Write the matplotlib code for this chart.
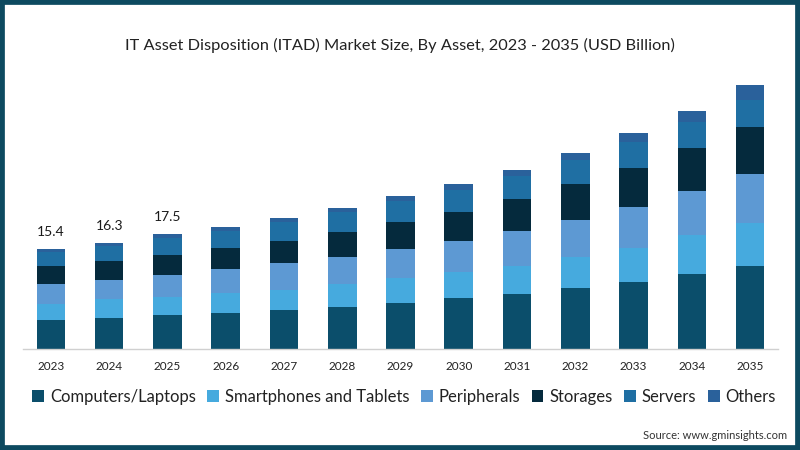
import matplotlib
matplotlib.use("Agg")
import matplotlib.pyplot as plt
from matplotlib.patches import Patch, Rectangle
import numpy as np

plt.rcParams['font.family'] = ['Lato', 'DejaVu Sans']

years = ["2023", "2024", "2025", "2026", "2027", "2028", "2029",
         "2030", "2031", "2032", "2033", "2034", "2035"]
computers = [4.36, 4.70, 5.18, 5.53, 5.94, 6.45, 7.07, 7.74, 8.40, 9.28, 10.20, 11.43, 12.75]
smartphones = [2.57, 2.87, 2.81, 2.98, 3.07, 3.49, 3.84, 4.09, 4.35, 4.85, 5.31, 6.04, 6.51]
peripherals = [3.00, 2.92, 3.33, 3.73, 4.10, 4.20, 4.36, 4.72, 5.33, 5.64, 6.30, 6.76, 7.57]
storages = [2.72, 2.92, 3.07, 3.18, 3.43, 3.84, 4.15, 4.41, 4.92, 5.48, 5.90, 6.56, 7.27]
servers = [2.27, 2.37, 2.63, 2.63, 2.93, 2.99, 3.24, 3.40, 3.46, 3.66, 4.08, 4.09, 4.10]
others = [0.45, 0.50, 0.55, 0.60, 0.65, 0.70, 0.80, 0.90, 1.00, 1.10, 1.30, 1.64, 2.30]
labeled_totals = [15.4, 16.3, 17.5]

series_names = ["Computers/Laptops", "Smartphones and Tablets", "Peripherals",
                "Storages", "Servers", "Others"]
series = [computers, smartphones, peripherals, storages, servers, others]
colors = ["#0b4e6b", "#46aade", "#5d99d3", "#052a3d", "#1f6fa3", "#2a619b"]

fig = plt.figure(figsize=(8, 4.5), dpi=100)
fig.patch.set_facecolor("white")

ax = fig.add_axes([23 / 800, (450 - 348.7) / 450, 755 / 800, 293 / 450])
x = np.arange(len(years))
bottom = np.zeros(len(years))
for vals, c in zip(series, colors):
    ax.bar(x, vals, width=0.49, bottom=bottom, color=c, edgecolor="none")
    bottom += np.array(vals)

for i, t in enumerate(labeled_totals):
    ax.annotate(f"{t:.1f}", xy=(x[i], bottom[i]), xytext=(0, 8),
                textcoords="offset points", ha="center", va="bottom",
                fontsize=10, color="#1a1a1a")

ax.set_xlim(-0.48, 12.48)
ax.set_ylim(0, 45)
ax.set_xticks(x)
ax.set_xticklabels(years, fontsize=8.5, color="#222222")
ax.tick_params(axis="x", length=0, pad=9)
ax.set_yticks([])
for s in ["top", "right", "left"]:
    ax.spines[s].set_visible(False)
ax.spines["bottom"].set_color("#d0d0d0")
ax.spines["bottom"].set_linewidth(1)

fig.text(0.5, 1 - 45.5 / 450, "IT Asset Disposition (ITAD) Market Size, By Asset, 2023 - 2035 (USD Billion)",
         ha="center", va="center", fontsize=11.8, color="#222222")

handles = [Patch(facecolor=c, edgecolor="none") for c in colors]
fig.legend(handles, series_names, loc="center", bbox_to_anchor=(0.505, 1 - 396.7 / 450),
           ncol=6, frameon=False, fontsize=12, handlelength=0.7, handleheight=0.7,
           handletextpad=0.35, columnspacing=0.7, labelcolor="#222222")

fig.text(787 / 800, 1 - 435.7 / 450, "Source: www.gminsights.com", ha="right", va="center",
         fontsize=8, color="#333333")

fig.patches.append(Rectangle((0, 0), 1, 1, transform=fig.transFigure, fill=False,
                             edgecolor="#0d4a60", linewidth=7, zorder=10))

fig.savefig("out.png", dpi=100, facecolor="white")
